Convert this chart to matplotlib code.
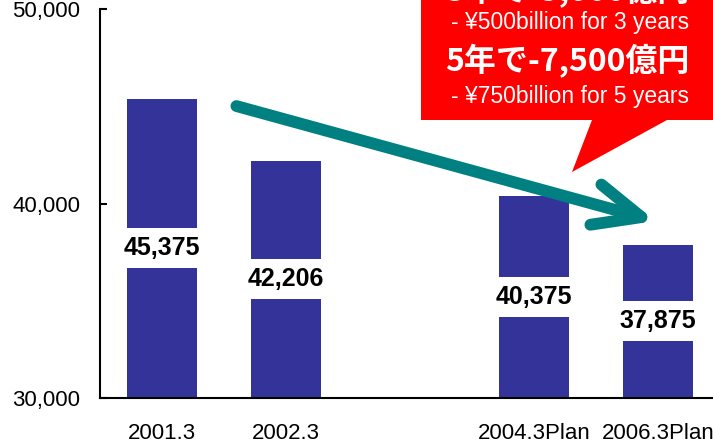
import matplotlib

matplotlib.use("Agg")
import matplotlib.patches as mpatches
import matplotlib.pyplot as plt
import matplotlib.transforms as mtransforms
import numpy as np

# data (empty slot = 2003.3, not shown)
periods = ["2001.3", "2002.3", "", "2004.3Plan", "2006.3Plan"]
costs = [45375, 42206, np.nan, 40375, 37875]
callout_lines = [
    "3年で-5,000億円",
    "- ¥500billion for 3 years",
    "5年で-7,500億円",
    "- ¥750billion for 5 years",
]

BAR, TEAL, RED = "#333399", "#008080", "#ff0000"
W, H = 713, 444

plt.rcParams["font.family"] = ["Liberation Sans", "DejaVu Sans"]
fig = plt.figure(figsize=(W / 100, H / 100), dpi=100)
ax = fig.add_axes([100 / W, 1 - 398 / H, 620 / W, 389 / H])

x = np.arange(len(periods))
ax.bar(x, costs, width=0.56, color=BAR, zorder=2)
for xi, v in zip(x, costs):
    if np.isnan(v):
        continue
    ax.text(xi, (30000 + v) / 2, f"{v:,.0f}", ha="center", va="center",
            fontsize=18, fontweight="bold", zorder=3,
            bbox=dict(boxstyle="square,pad=0.32", fc="white", ec="none"))

ax.set_xlim(-0.5, len(periods) - 0.5)
ax.set_ylim(30000, 50000)
ax.set_yticks([30000, 40000, 50000])
ax.set_yticklabels([f"{t:,}" for t in [30000, 40000, 50000]], fontsize=16)
ax.set_xticks(x)
ax.set_xticklabels(periods, fontsize=16)
ax.tick_params(axis="y", direction="in", length=5, width=1.5, pad=14)
ax.tick_params(axis="x", length=0, pad=18)
for s in ["top", "right"]:
    ax.spines[s].set_visible(False)
for s in ["left", "bottom"]:
    ax.spines[s].set_linewidth(1.5)

# trend arrow
ax.annotate("", xy=(3.98, 39100), xytext=(0.6, 45010),
            arrowprops=dict(arrowstyle="->,head_length=3.4,head_width=1.5",
                            lw=8.5, color=TEAL, capstyle="round",
                            shrinkA=0, shrinkB=0), zorder=4)

# red speech bubble, in pixel coords of the picture
px = mtransforms.Affine2D().scale(1 / W, -1 / H).translate(0, 1) + fig.transFigure
bubble = [(421, -10), (730, -10), (730, 120), (667, 120), (572, 172),
          (592, 120), (421, 120)]
fig.patches.append(mpatches.Polygon(bubble, closed=True, fc=RED, ec="none",
                                    transform=px, zorder=5))
line_y = [-9, 23, 61, 96]
for txt, yy in zip(callout_lines, line_y):
    if "年" in txt:
        fig.text(567, yy, txt, transform=px, ha="center", va="center",
                 color="white", fontsize=23, fontweight="bold", zorder=6,
                 family=["Noto Sans CJK JP", "DejaVu Sans"])
    else:
        fig.text(570, yy, txt, transform=px, ha="center", va="center",
                 color="white", fontsize=16.5, zorder=6)

fig.savefig("out.png", dpi=100)
